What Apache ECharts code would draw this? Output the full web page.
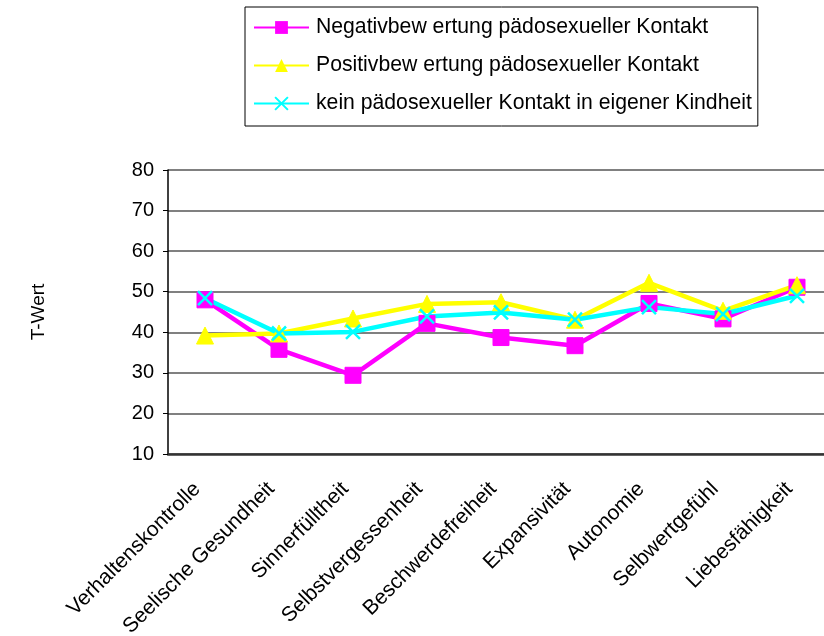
<!DOCTYPE html>
<html>
<head>
<meta charset="utf-8">
<script src="https://cdn.jsdelivr.net/npm/echarts@6/dist/echarts.min.js"></script>
<style>
  html, body { margin: 0; padding: 0; background: #fff; }
  #chart { width: 824px; height: 636px; }
</style>
</head>
<body>
<div id="chart"></div>
<script>
// Scale dimensions (categories along the x axis)
const categories = [
  'Verhaltenskontrolle', 'Seelische Gesundheit', 'Sinnerfülltheit',
  'Selbstvergessenheit', 'Beschwerdefreiheit', 'Expansivität',
  'Autonomie', 'Selbwertgefühl', 'Liebesfähigkeit'
];

// Series names as shown in the legend
const seriesNames = [
  'Negativbew ertung pädosexueller Kontakt',
  'Positivbew ertung pädosexueller Kontakt',
  'kein pädosexueller Kontakt in eigener Kindheit'
];

// Mean T-values per group
const negativValues = [48.0, 35.8, 29.4, 42.2, 38.7, 36.7, 47.1, 43.3, 51.1];
const positivValues = [39.2, 39.7, 43.4, 47.0, 47.4, 43.1, 52.2, 45.3, 51.6];
const keinValues    = [48.4, 39.7, 40.1, 43.9, 44.9, 43.1, 46.2, 44.5, 49.0];

// Y axis range
const yMin = 10, yMax = 80, yStep = 10;

const FONT = '"Liberation Sans", Arial, sans-serif';

const chart = echarts.init(document.getElementById('chart'), null, { renderer: 'canvas' });

function lineSeries(name, data, color, symbol, size) {
  return {
    name: name,
    type: 'line',
    data: data,
    symbol: symbol,
    symbolSize: size,
    showAllSymbol: true,
    lineStyle: { color: color, width: 4.5 },
    itemStyle: { color: color, borderColor: color },
    emphasis: { disabled: true },
    z: 3
  };
}

// Cross marker for the third series
const crossPath = 'path://M0,0 L10,10 M10,0 L0,10';

const option = {
  backgroundColor: '#fff',
  animation: false,
  legend: {
    orient: 'vertical',
    left: 245,
    top: 7,
    padding: [10, 6, 12, 8],
    itemGap: 17,
    itemWidth: 55,
    itemHeight: 16,
    borderColor: '#000',
    borderWidth: 1,
    textStyle: { fontFamily: FONT, fontSize: 21.2, color: '#000', padding: [0, 0, 0, 2] },
    data: seriesNames
  },
  grid: {
    left: 168, top: 170, bottom: 182, right: -10,
    containLabel: false,
    outerBoundsMode: 'none'
  },
  xAxis: {
    type: 'category',
    data: categories,
    boundaryGap: true,
    axisLine: { lineStyle: { color: '#333', width: 2.5 } },
    axisTick: { show: false },
    axisLabel: {
      rotate: 45,
      margin: 24,
      interval: 0,
      padding: [0, 11, 0, 0],
      fontFamily: FONT,
      fontSize: 21,
      color: '#000'
    }
  },
  yAxis: {
    type: 'value',
    min: yMin,
    max: yMax,
    interval: yStep,
    name: 'T-Wert',
    nameLocation: 'middle',
    nameRotate: 90,
    nameGap: 120,
    nameTextStyle: { fontFamily: FONT, fontSize: 19, color: '#000' },
    axisLine: { show: true, lineStyle: { color: '#000', width: 1.5 } },
    axisTick: { show: true, length: 5, lineStyle: { color: '#000' } },
    axisLabel: { fontFamily: FONT, fontSize: 20, color: '#000', margin: 14 },
    splitLine: { lineStyle: { color: '#808080', width: 2 } }
  },
  series: [
    lineSeries(seriesNames[0], negativValues, '#ff00ff', 'rect', 16),
    lineSeries(seriesNames[1], positivValues, '#ffff00', 'triangle', 17),
    Object.assign(lineSeries(seriesNames[2], keinValues, '#00ffff', crossPath, 14), {
      itemStyle: { color: 'none', borderColor: '#00ffff', borderWidth: 2.5 }
    })
  ]
};

chart.setOption(option);
</script>
</body>
</html>
